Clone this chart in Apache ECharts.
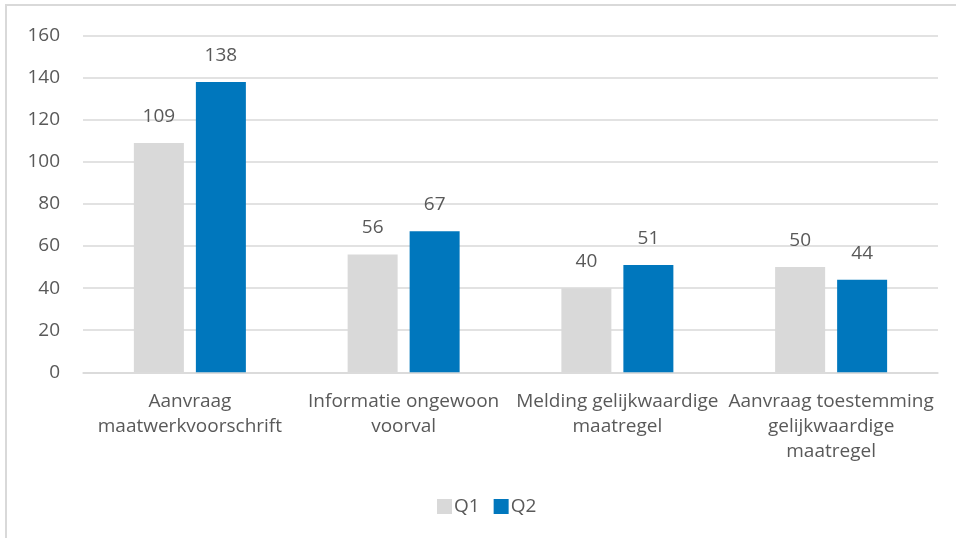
<!DOCTYPE html>
<html>
<head>
<meta charset="utf-8">
<script src="https://cdn.jsdelivr.net/npm/echarts@6/dist/echarts.min.js"></script>
<style>
  html, body { margin: 0; padding: 0; background: #fff; }
  #chart { width: 956px; height: 538px; }
</style>
</head>
<body>
<div id="chart"></div>
<script>
// categorieën (x-as)
const categories = [
  'Aanvraag\nmaatwerkvoorschrift',
  'Informatie ongewoon\nvoorval',
  'Melding gelijkwaardige\nmaatregel',
  'Aanvraag toestemming\ngelijkwaardige\nmaatregel'
];
const q1 = [109, 56, 40, 50];
const q2 = [138, 67, 51, 44];

const textColor = '#595959';
const fontFamily = '"Open Sans", "Noto Sans", sans-serif';
const fontSize = 19;

const myChart = echarts.init(document.getElementById('chart'));

const valueLabel = {
  show: true,
  position: 'top',
  distance: 17,
  color: textColor,
  fontFamily: fontFamily,
  fontSize: fontSize
};

const option = {
  animation: false,
  textStyle: { fontFamily: fontFamily },
  graphic: [{
    type: 'rect',
    shape: { x: 6, y: 5, width: 1000, height: 600 },
    style: { fill: 'none', stroke: '#d9d9d9', lineWidth: 2 }
  }],
  legend: {
    left: 432,
    top: 492,
    itemWidth: 15,
    itemHeight: 15,
    itemGap: 14,
    icon: 'rect',
    textStyle: { color: textColor, fontSize: fontSize, padding: [0, 0, 0, -3] },
    data: ['Q1', 'Q2']
  },
  grid: {
    left: 83,
    right: 18,
    top: 35.7,
    bottom: 165.7,
    containLabel: false
  },
  xAxis: {
    type: 'category',
    data: categories,
    axisLine: { lineStyle: { color: '#d9d9d9', width: 1.5 } },
    axisTick: { show: false },
    axisLabel: {
      color: textColor,
      fontSize: fontSize,
      lineHeight: 25,
      margin: 17,
      interval: 0
    }
  },
  yAxis: {
    type: 'value',
    min: 0,
    max: 160,
    interval: 20,
    axisLine: { show: false },
    axisTick: { show: false },
    splitLine: { lineStyle: { color: '#d9d9d9', width: 1.5 } },
    axisLabel: {
      color: textColor,
      fontSize: fontSize,
      margin: 23
    }
  },
  series: [{
    name: 'Q1',
    type: 'bar',
    data: q1,
    barWidth: 50,
    barGap: '24%',
    itemStyle: { color: '#d9d9d9' },
    label: valueLabel
  }, {
    name: 'Q2',
    type: 'bar',
    data: q2,
    barWidth: 50,
    itemStyle: { color: '#0077bd' },
    label: valueLabel
  }]
};

myChart.setOption(option);
</script>
</body>
</html>
